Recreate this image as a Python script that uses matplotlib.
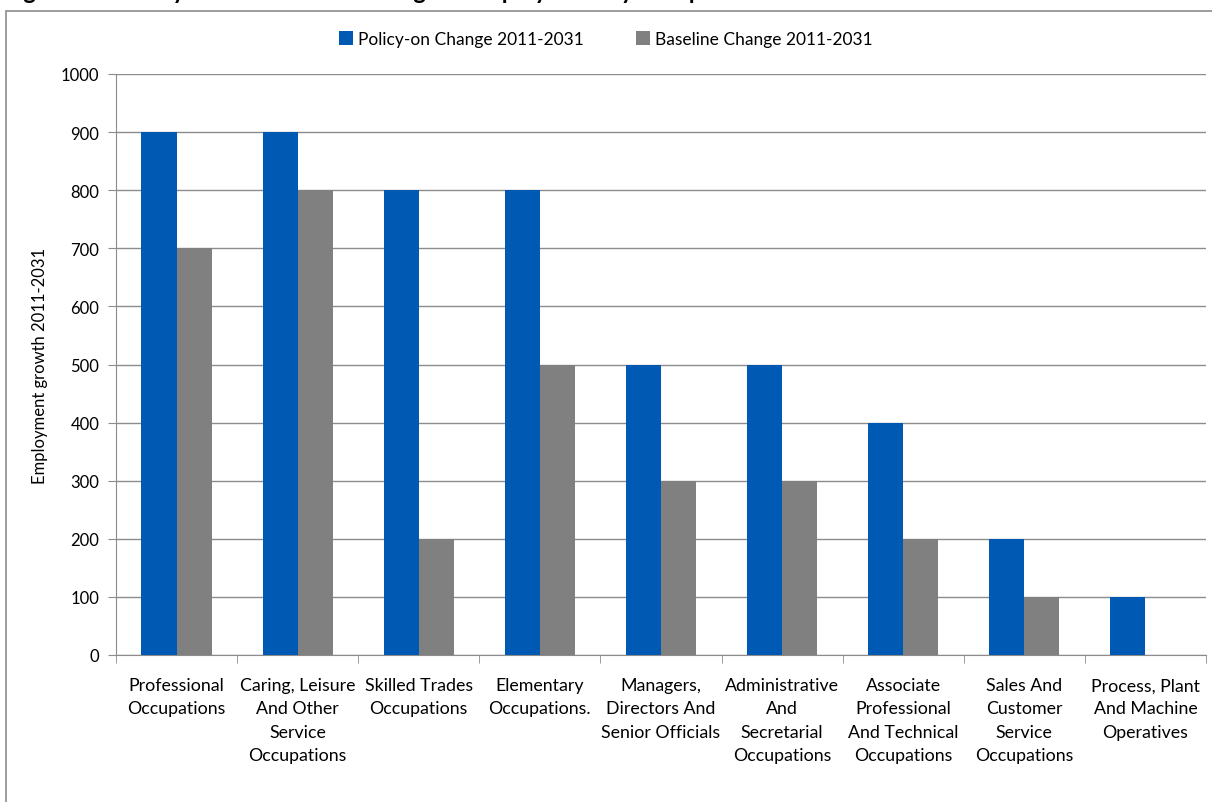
import matplotlib
matplotlib.use("Agg")
import matplotlib.pyplot as plt
from matplotlib.patches import Rectangle
import numpy as np

categories = [
    "Professional\nOccupations",
    "Caring, Leisure\nAnd Other\nService\nOccupations",
    "Skilled Trades\nOccupations",
    "Elementary\nOccupations.",
    "Managers,\nDirectors And\nSenior Officials",
    "Administrative\nAnd\nSecretarial\nOccupations",
    "Associate\nProfessional\nAnd Technical\nOccupations",
    "Sales And\nCustomer\nService\nOccupations",
    "Process, Plant\nAnd Machine\nOperatives",
]
policy_on = [900, 900, 800, 800, 500, 500, 400, 200, 100]
baseline = [700, 800, 200, 500, 300, 300, 200, 100, 0]
series_names = ["Policy-on Change 2011-2031", "Baseline Change 2011-2031"]
yticks = list(range(0, 1001, 100))

plt.rcParams["font.family"] = ["Lato", "DejaVu Sans"]

W, H = 1212, 803
fig = plt.figure(figsize=(W / 100, H / 100), dpi=100)

# outer chart frame
fig.patches.append(Rectangle((6 / W, -0.1), 1.2, 1 - 12 / H + 0.1, transform=fig.transFigure,
                             fill=False, edgecolor="#8c8c8c", lw=1.2))
# figure title sits above the crop, only its descenders show
fig.text(4 / W, 1 + 1 / H, "Figure 4.3: Policy-on and baseline change in employment by occupation",
         fontsize=17, fontweight="bold", ha="left", va="baseline")

ax = fig.add_axes([116 / W, 1 - 656 / H, (1206 - 116) / W, (656 - 75) / H])
x = np.arange(len(categories))
bw = 0.29
ax.bar(x - bw / 2, policy_on, bw, color="#005AB4", label=series_names[0], zorder=3)
ax.bar(x + bw / 2, baseline, bw, color="#808080", label=series_names[1], zorder=3)

ax.set_xlim(-0.5, len(categories) - 0.5)
ax.set_ylim(0, 1000)
ax.set_yticks(yticks)
ax.set_yticklabels([str(v) for v in yticks], fontsize=12)
ax.yaxis.grid(True, color="#8c8c8c", lw=1, zorder=0)
ax.set_xticks(x)
ax.set_xticklabels(categories, fontsize=12.8, linespacing=1.55, va="top")
ax.tick_params(axis="x", length=0, pad=16)
ax.set_xticks(np.arange(-0.5, len(categories)), minor=True)
ax.tick_params(axis="x", which="minor", length=6, color="#8c8c8c")
ax.tick_params(axis="y", length=6, color="#8c8c8c", pad=6)

for s in ["top", "right"]:
    ax.spines[s].set_visible(False)
for s in ["left", "bottom"]:
    ax.spines[s].set_color("#8c8c8c")

ax.set_ylabel("Employment growth 2011-2031", fontsize=12)
ax.yaxis.set_label_coords(-0.062, 0.5)

fig.legend(loc="center", bbox_to_anchor=(0.5, 1 - 40 / H), ncol=2, frameon=False,
           fontsize=12.5, handlelength=0.8, handleheight=0.8, handletextpad=0.3, columnspacing=3)

fig.savefig("out.png", dpi=100)
